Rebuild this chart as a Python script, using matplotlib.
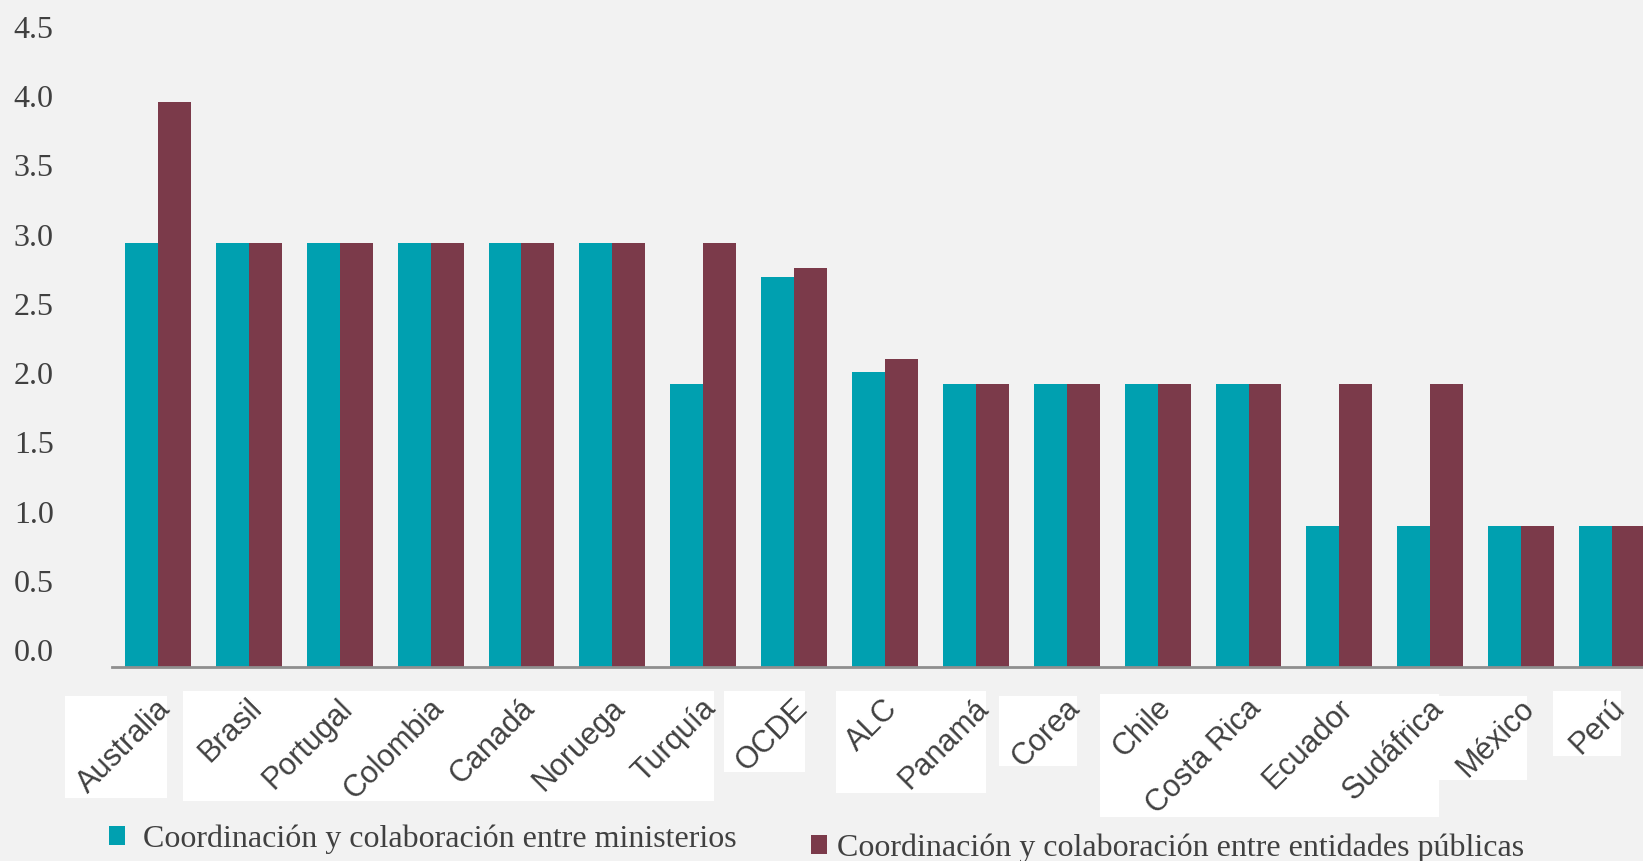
import matplotlib
matplotlib.use("Agg")
import matplotlib.pyplot as plt
import matplotlib.transforms as mtransforms
from matplotlib.patches import Rectangle
import numpy as np

# Data
categories = ['Australia', 'Brasil', 'Portugal', 'Colombia', 'Canadá', 'Noruega',
              'Turquía', 'OCDE', 'ALC', 'Panamá', 'Corea', 'Chile', 'Costa Rica',
              'Ecuador', 'Sudáfrica', 'México', 'Perú']
ministerios = [3, 3, 3, 3, 3, 3, 2, 2.76, 2.09, 2, 2, 2, 2, 1, 1, 1, 1]
entidades = [4, 3, 3, 3, 3, 3, 3, 2.82, 2.18, 2, 2, 2, 2, 2, 2, 1, 1]
series_labels = ['Coordinación y colaboración entre ministerios',
                 'Coordinación y colaboración entre entidades públicas']
yticks = [0.0, 0.5, 1.0, 1.5, 2.0, 2.5, 3.0, 3.5, 4.0, 4.5]

TEAL = '#00a0b0'
MAROON = '#7b3a4a'
BG = '#f2f2f2'
TEXT = '#404040'

W, H = 1643, 861
fig = plt.figure(figsize=(W / 100, H / 100), dpi=100, facecolor=BG)
ax = fig.add_axes([112 / W, (H - 667) / H, 1 - 112 / W, 636 / H])
ax.set_facecolor(BG)

x = np.arange(len(categories))
bw = 0.363
b1 = ax.bar(x - bw / 2, ministerios, bw, color=TEAL, label=series_labels[0], zorder=2)
b2 = ax.bar(x + bw / 2, entidades, bw, color=MAROON, label=series_labels[1], zorder=2)

ax.set_xlim(-0.506, 16.341)
ax.set_ylim(0, 4.5)

for s in ['top', 'right', 'left']:
    ax.spines[s].set_visible(False)
ax.spines['bottom'].set_color('#8f8f8f')
ax.spines['bottom'].set_linewidth(2.0)
ax.spines['bottom'].set_zorder(3)

# Y axis labels (serif)
ax.set_yticks(yticks)
ax.set_yticklabels([f'{v:.1f}' for v in yticks], family='Liberation Serif',
                   fontsize=23, color=TEXT)
ax.tick_params(axis='y', length=0, pad=42)
for v, lab in zip(yticks, ax.get_yticklabels()):
    dy = (17 - 2.9 * v) / 100
    lab.set_transform(lab.get_transform() +
                      mtransforms.ScaledTranslation(0, dy, fig.dpi_scale_trans))

# X axis labels, rotated
ax.set_xticks(x)
ax.set_xticklabels(categories, rotation=45, ha='right', va='top',
                   rotation_mode='anchor', family='Liberation Sans',
                   fontsize=22, color=TEXT)
ax.tick_params(axis='x', length=0, pad=19)
for lab in ax.get_xticklabels():
    lab.set_transform(lab.get_transform() +
                      mtransforms.ScaledTranslation(-0.02, 0, fig.dpi_scale_trans))

# White panels behind the category labels
panels = [(65, 696, 167, 798), (183, 691, 714, 801), (724, 691, 805, 772),
          (836, 691, 986, 793), (999, 696, 1077, 766), (1100, 694, 1439, 817),
          (1439, 696, 1527, 780), (1553, 691, 1621, 756)]
for x0, y0, x1, y1 in panels:
    fig.patches.append(Rectangle((x0 / W, 1 - y1 / H), (x1 - x0) / W, (y1 - y0) / H,
                                 transform=fig.transFigure, facecolor='white',
                                 edgecolor='none', zorder=-1))

# Legend entries, placed separately
leg_kw = dict(frameon=False, loc='center left', borderaxespad=0, borderpad=0,
              handlelength=0.5, handleheight=0.5,
              prop={'family': 'Liberation Serif', 'size': 23}, labelcolor=TEXT)
fig.legend(handles=[b1], labels=[series_labels[0]],
           bbox_to_anchor=(109 / W, 1 - 839 / H), handletextpad=0.55, **leg_kw)
fig.legend(handles=[b2], labels=[series_labels[1]],
           bbox_to_anchor=(811 / W, 1 - 848 / H), handletextpad=0.3, **leg_kw)

fig.savefig('out.png', dpi=100, facecolor=BG)
